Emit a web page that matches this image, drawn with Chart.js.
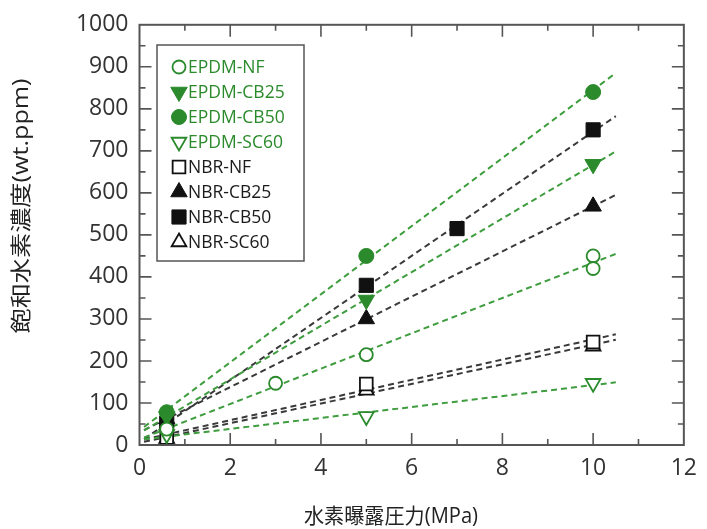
<!DOCTYPE html>
<html>
<head>
<meta charset="utf-8">
<script src="https://cdn.jsdelivr.net/npm/chart.js@4.4.1/dist/chart.umd.min.js"></script>
<style>
  html, body { margin: 0; padding: 0; background: #fff; }
  #wrap { width: 707px; height: 529px; }
</style>
</head>
<body>
<div id="wrap"><canvas id="h2Chart"></canvas></div>
<script>
// 水素曝露圧力 (MPa)
const pressure = [0.6, 5, 10];
const pressureEpdmNF = [0.6, 3, 5, 10, 10];
const pressureNbrCB50 = [0.6, 5, 7, 10];

// 飽和水素濃度 (wt.ppm)
const epdmNF = [38, 147, 215, 450, 420];
const epdmCB25 = [68, 345, 668];
const epdmCB50 = [78, 450, 840];
const epdmSC60 = [25, 68, 147];
const nbrNF = [18, 145, 245];
const nbrCB25 = [62, 300, 568];
const nbrCB50 = [52, 380, 515, 750];
const nbrSC60 = [15, 130, 235];

const xTicks = [0, 2, 4, 6, 8, 10, 12];
const yTicks = [0, 100, 200, 300, 400, 500, 600, 700, 800, 900, 1000];
const fitRange = [0.1, 10.5];

const GREEN = '#2b8a2b';
const GREEN_LINE = '#3f9d3f';
const BLACK = '#111';
const BLACK_LINE = '#3a3a3a';

const series = [
  { label: 'EPDM-NF',   xs: pressureEpdmNF,  ys: epdmNF,   color: GREEN, line: GREEN_LINE, style: 'circle',   filled: false },
  { label: 'EPDM-CB25', xs: pressure,        ys: epdmCB25, color: GREEN, line: GREEN_LINE, style: 'triangle', filled: true,  down: true },
  { label: 'EPDM-CB50', xs: pressure,        ys: epdmCB50, color: GREEN, line: GREEN_LINE, style: 'circle',   filled: true },
  { label: 'EPDM-SC60', xs: pressure,        ys: epdmSC60, color: GREEN, line: GREEN_LINE, style: 'triangle', filled: false, down: true },
  { label: 'NBR-NF',    xs: pressure,        ys: nbrNF,    color: BLACK, line: BLACK_LINE, style: 'rect',     filled: false },
  { label: 'NBR-CB25',  xs: pressure,        ys: nbrCB25,  color: BLACK, line: BLACK_LINE, style: 'triangle', filled: true },
  { label: 'NBR-CB50',  xs: pressureNbrCB50, ys: nbrCB50,  color: BLACK, line: BLACK_LINE, style: 'rect',     filled: true },
  { label: 'NBR-SC60',  xs: pressure,        ys: nbrSC60,  color: BLACK, line: BLACK_LINE, style: 'triangle', filled: false }
];

const markerRadius = { circle: 7.5, rect: 10, triangle: 9.5 };

function linearFit(xs, ys) {
  const n = xs.length;
  const mx = xs.reduce((a, b) => a + b, 0) / n;
  const my = ys.reduce((a, b) => a + b, 0) / n;
  let sxy = 0, sxx = 0;
  for (let i = 0; i < n; i++) {
    sxy += (xs[i] - mx) * (ys[i] - my);
    sxx += (xs[i] - mx) * (xs[i] - mx);
  }
  const slope = sxy / sxx;
  return { slope, intercept: my - slope * mx };
}

function pointOpts(s) {
  return {
    pointStyle: s.style,
    pointRadius: markerRadius[s.style] - (s.filled ? 0 : 1),
    pointRotation: s.down ? 180 : 0,
    pointBackgroundColor: s.filled ? s.color : '#fff',
    pointBorderColor: s.color,
    pointBorderWidth: s.filled ? 1 : 1.8
  };
}

const datasets = [];
series.forEach(s => {
  const fit = linearFit(s.xs, s.ys);
  datasets.push({
    label: s.label + ' fit',
    isFit: true,
    data: fitRange.map(x => ({ x, y: fit.intercept + fit.slope * x })),
    showLine: true,
    borderColor: s.line,
    borderWidth: 2,
    borderDash: [6, 4],
    pointRadius: 0,
    order: 2
  });
  datasets.push(Object.assign({
    label: s.label,
    legendColor: s.color,
    data: s.xs.map((x, i) => ({ x, y: s.ys[i] })),
    showLine: false,
    order: 1
  }, pointOpts(s)));
});

// frame, inward ticks, axis titles and boxed legend
const decorations = {
  id: 'decorations',
  afterDraw(chart) {
    const ctx = chart.ctx;
    const { left, right, top, bottom } = chart.chartArea;
    const xs = chart.scales.x, ys = chart.scales.y;
    ctx.save();

    ctx.strokeStyle = '#555';
    ctx.lineWidth = 1.6;
    ctx.beginPath();
    for (let v = 1; v < 12; v++) {
      const px = xs.getPixelForValue(v);
      const len = v % 2 === 0 ? 12 : 6;
      ctx.moveTo(px, bottom); ctx.lineTo(px, bottom - len);
      ctx.moveTo(px, top); ctx.lineTo(px, top + len);
    }
    for (let v = 50; v < 1000; v += 50) {
      const py = ys.getPixelForValue(v);
      const len = v % 100 === 0 ? 12 : 6;
      ctx.moveTo(left, py); ctx.lineTo(left + len, py);
      ctx.moveTo(right, py); ctx.lineTo(right - len, py);
    }
    ctx.stroke();
    ctx.lineWidth = 2;
    ctx.strokeRect(left, top, right - left, bottom - top);

    // axis titles
    const titleFont = "21px 'Open Sans', 'Noto Sans CJK JP', sans-serif";
    function drawTitle(text, cx, cy, length, angle) {
      ctx.save();
      ctx.font = titleFont;
      ctx.fillStyle = '#222';
      ctx.textAlign = 'center';
      ctx.textBaseline = 'middle';
      ctx.translate(cx, cy);
      ctx.rotate(angle);
      ctx.scale(length / ctx.measureText(text).width, 1);
      ctx.fillText(text, 0, 0);
      ctx.restore();
    }
    drawTitle('水素曝露圧力(MPa)', 391, 517, 174, 0);
    drawTitle('飽和水素濃度(wt.ppm)', 22, 206, 255, -Math.PI / 2);

    // legend
    const box = { x: 157, y: 45, w: 147, h: 216 };
    ctx.fillStyle = '#fff';
    ctx.fillRect(box.x, box.y, box.w, box.h);
    ctx.strokeStyle = '#555';
    ctx.lineWidth = 1.5;
    ctx.strokeRect(box.x, box.y, box.w, box.h);
    ctx.font = "500 17.5px 'Open Sans', sans-serif";
    ctx.textBaseline = 'middle';
    ctx.textAlign = 'left';
    const items = chart.data.datasets.filter(d => !d.isFit);
    items.forEach((d, i) => {
      const cy = 67 + i * 25;
      ctx.fillStyle = d.pointBackgroundColor;
      ctx.strokeStyle = d.pointBorderColor;
      ctx.lineWidth = d.pointBorderWidth;
      Chart.helpers.drawPoint(ctx, {
        pointStyle: d.pointStyle,
        radius: d.pointRadius,
        rotation: d.pointRotation,
        borderWidth: d.pointBorderWidth
      }, 179, cy);
      ctx.fillStyle = d.legendColor === GREEN ? GREEN : '#1a1a1a';
      ctx.fillText(d.label, 188, cy + 1);
    });

    ctx.restore();
  }
};

const tickFont = { family: 'Open Sans', size: 23, weight: '500' };

new Chart(document.getElementById('h2Chart'), {
  type: 'scatter',
  data: { datasets },
  options: {
    responsive: true,
    maintainAspectRatio: false,
    animation: false,
    layout: { padding: { top: 23, right: 17.5, bottom: 0, left: 0 } },
    plugins: { legend: { display: false }, tooltip: { enabled: false } },
    scales: {
      x: {
        type: 'linear',
        min: 0, max: 12,
        afterBuildTicks: s => { s.ticks = xTicks.map(v => ({ value: v })); },
        afterFit: s => { s.height = 84; },
        grid: { display: false, drawTicks: false },
        border: { display: false },
        ticks: { padding: 10, color: '#333', font: tickFont, callback: v => String(v) }
      },
      y: {
        type: 'linear',
        min: 0, max: 1000,
        afterBuildTicks: s => { s.ticks = yTicks.map(v => ({ value: v })); },
        afterFit: s => { s.width = 139.5; },
        grid: { display: false, drawTicks: false },
        border: { display: false },
        ticks: { padding: 11, color: '#333', font: tickFont, callback: v => String(v) }
      }
    }
  },
  plugins: [decorations]
});
</script>
</body>
</html>
